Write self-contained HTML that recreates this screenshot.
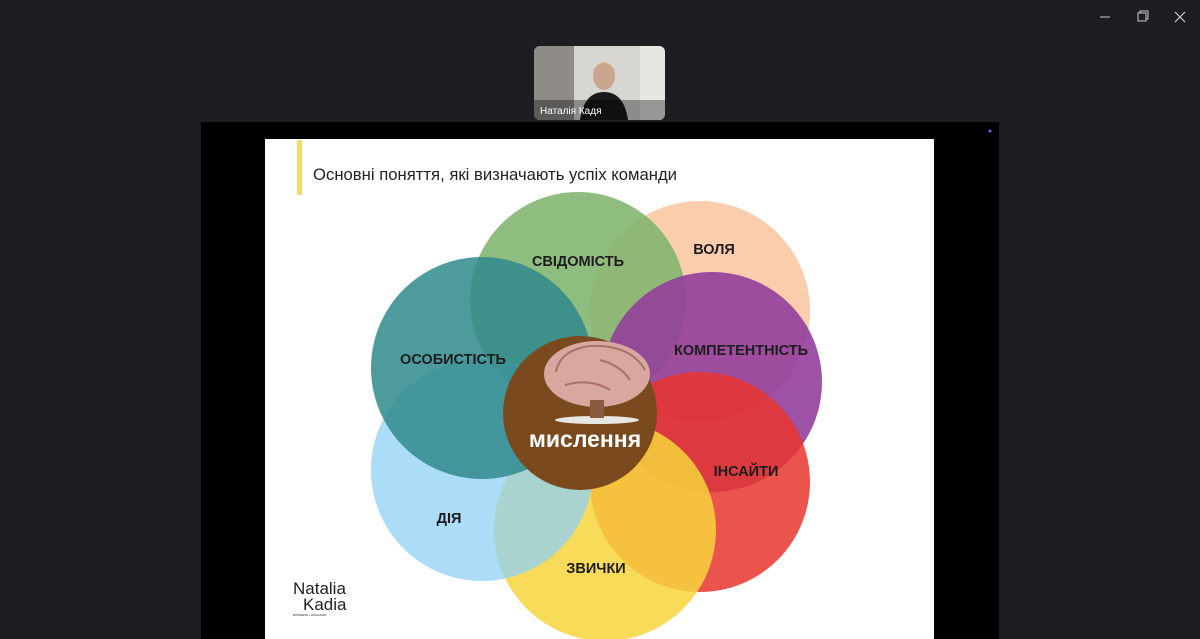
<!DOCTYPE html>
<html><head><meta charset="utf-8"><style>
html,body{margin:0;padding:0;width:1200px;height:639px;overflow:hidden;background:#1c1e22;font-family:"Liberation Sans","DejaVu Sans",sans-serif;}
</style></head><body>
<svg width="1200" height="639" viewBox="0 0 1200 639" xmlns="http://www.w3.org/2000/svg">
<rect width="1200" height="639" fill="#1c1e22"/>
<line x1="1100" y1="17" x2="1110" y2="17" stroke="#ccc" stroke-width="1"/>
<rect x="1138" y="13" width="8" height="8" fill="none" stroke="#ccc"/>
<path d="M1140 13 V11 H1148 V19 H1146" fill="none" stroke="#ccc"/>
<path d="M1175 12 L1185 22 M1185 12 L1175 22" stroke="#ccc" stroke-width="1.2"/>
<defs><clipPath id="vc"><rect x="534" y="46" width="131" height="74" rx="6"/></clipPath></defs>
<g clip-path="url(#vc)">
<rect x="534" y="46" width="131" height="74" fill="#d8d6d3"/>
<rect x="534" y="46" width="40" height="74" fill="#8f8c88"/>
<rect x="640" y="46" width="25" height="74" fill="#e8e6e3"/>
<ellipse cx="604" cy="76" rx="11" ry="14" fill="#c9a58e"/>
<path d="M592 72 Q604 54 616 72 Q612 62 604 62 Q596 62 592 72Z" fill="#d9c6a0"/>
<path d="M580 120 Q584 92 604 92 Q624 92 628 120Z" fill="#1a1a1a"/>
<rect x="534" y="100" width="131" height="20" fill="rgba(0,0,0,0.35)"/>
</g>
<text x="540" y="114" font-size="10" fill="#fff">Наталія Кадя</text>
<rect x="201" y="122" width="798" height="517" fill="#000"/>
<circle cx="990" cy="131" r="1.5" fill="#7a5cff"/>
<rect x="265" y="139" width="669" height="500" fill="#fff"/>
<rect x="297" y="140" width="5" height="55" fill="#f0dc6c"/>
<text x="313" y="180" font-size="16.5" fill="#222" textLength="364" lengthAdjust="spacingAndGlyphs">Основні поняття, які визначають успіх команди</text>
<g>
<circle cx="700" cy="311" r="110" fill="#f9c8a4" opacity="0.9"/>
<circle cx="578" cy="300" r="108" fill="#7fb46e" opacity="0.88"/>
<circle cx="712" cy="382" r="110" fill="#943f9c" opacity="0.9"/>
<circle cx="700" cy="482" r="110" fill="#e8352e" opacity="0.85"/>
<circle cx="605" cy="530" r="111" fill="#f7d53c" opacity="0.85"/>
<circle cx="482" cy="470" r="111" fill="#8fd0f5" opacity="0.75"/>
<circle cx="482" cy="368" r="111" fill="#2f8a8c" opacity="0.85"/>
<circle cx="580" cy="413" r="77" fill="#7a4a1e"/>
<ellipse cx="597" cy="374" rx="53" ry="33" fill="#d8a8a0"/>
<path d="M556 372 Q560 350 590 346 Q630 344 645 370" fill="none" stroke="#a87068" stroke-width="2"/>
<path d="M565 385 Q590 378 610 390 M600 360 Q620 365 630 380" fill="none" stroke="#a87068" stroke-width="2"/>
<ellipse cx="597" cy="420" rx="42" ry="4" fill="#e8e6e0"/>
<rect x="590" y="400" width="14" height="18" fill="#8a5a40"/>
</g>
<g font-weight="bold" fill="#1d1d1d" font-size="14.5" text-anchor="middle">
<text x="578" y="266">СВІДОМІСТЬ</text>
<text x="714" y="254">ВОЛЯ</text>
<text x="741" y="355">КОМПЕТЕНТНІСТЬ</text>
<text x="453" y="364">ОСОБИСТІСТЬ</text>
<text x="746" y="476">ІНСАЙТИ</text>
<text x="449" y="523">ДІЯ</text>
<text x="596" y="573">ЗВИЧКИ</text>
<text x="585" y="447" fill="#fff" font-size="23">мислення</text>
</g>
<text x="293" y="594" font-size="17" fill="#222">Natalia</text>
<text x="303" y="610" font-size="17" fill="#222">Kadia</text>
<text x="293" y="616" font-size="3" fill="#222">BUSINESS • HUMANIST</text>
</svg>
</body></html>
